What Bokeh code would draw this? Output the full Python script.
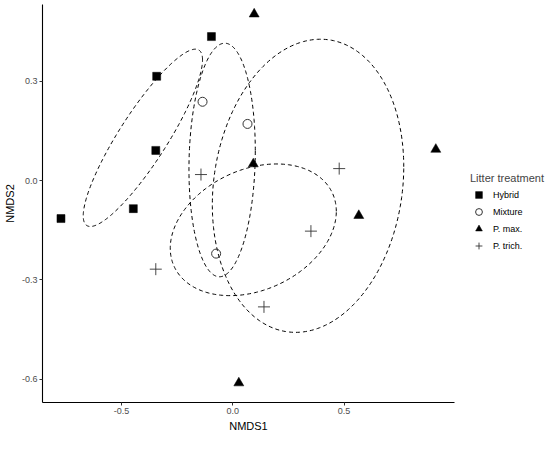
import numpy as np
from bokeh.plotting import figure
from bokeh.models import Range1d, FixedTicker, PrintfTickFormatter, Legend, LegendItem
from bokeh.embed import file_html
from bokeh.resources import INLINE

# ---- data ----
hybrid_x = [-0.096, -0.342, -0.346, -0.447, -0.772]
hybrid_y = [0.435, 0.315, 0.091, -0.085, -0.115]

mixture_x = [-0.136, 0.066, -0.075]
mixture_y = [0.238, 0.171, -0.221]

pmax_x = [0.096, 0.092, 0.912, 0.566, 0.027]
pmax_y = [0.503, 0.050, 0.094, -0.106, -0.612]

ptrich_x = [-0.143, 0.478, 0.351, -0.346, 0.140]
ptrich_y = [0.018, 0.036, -0.153, -0.268, -0.382]

# ellipse parameters per group: centre, half-extent in x and y, correlation
ell_groups = ["Hybrid", "Mixture", "P. max.", "P. trich."]
ell_cx = [-0.404, -0.048, 0.338, 0.092]
ell_cy = [0.129, 0.062, -0.016, -0.149]
ell_sx = [0.268, 0.149, 0.430, 0.373]
ell_sy = [0.268, 0.353, 0.443, 0.199]
ell_r = [0.88, 0.08, 0.13, 0.28]

x_ticks = [-0.5, 0.0, 0.5]
y_ticks = [-0.6, -0.3, 0.0, 0.3]

FONT = "Liberation Sans"

p = figure(width=534, height=433, frame_width=412, frame_height=398,
           output_backend="svg", toolbar_location=None,
           x_range=Range1d(-0.855, 0.996), y_range=Range1d(-0.671, 0.532),
           min_border_left=10, min_border_top=4, min_border_bottom=0, min_border_right=0)
p.outline_line_color = None
p.xgrid.visible = False
p.ygrid.visible = False
p.background_fill_color = "white"

# ellipses
t = np.linspace(0, 2 * np.pi, 300)
for cx, cy, sx, sy, r in zip(ell_cx, ell_cy, ell_sx, ell_sy, ell_r):
    ex = cx + sx * np.cos(t)
    ey = cy + sy * (r * np.cos(t) + np.sqrt(1 - r * r) * np.sin(t))
    p.line(ex, ey, line_color="black", line_width=1.0, line_dash="4 3")

r_h = p.scatter(hybrid_x, hybrid_y, marker="square", size=8, fill_color="black",
                line_color="black", line_width=0.5)
r_m = p.scatter(mixture_x, mixture_y, marker="circle", size=9, fill_color=None,
                line_color="#333333", line_width=1.0)
r_p = p.scatter(pmax_x, pmax_y, marker="triangle", size=10, fill_color="black",
                line_color="black", line_width=0.5)
r_t = p.scatter(ptrich_x, ptrich_y, marker="cross", size=12, fill_color=None,
                line_color="#333333", line_width=0.9)

for ax in (p.xaxis[0], p.yaxis[0]):
    ax.axis_line_color = "black"
    ax.axis_line_width = 1.1
    ax.major_tick_line_color = "#333333"
    ax.major_tick_out = 3
    ax.major_tick_in = 0
    ax.minor_tick_line_color = None
    ax.major_label_text_font = FONT
    ax.major_label_text_font_size = "9px"
    ax.major_label_text_color = "#4D4D4D"
    ax.major_label_standoff = 2
    ax.axis_label_text_font = FONT
    ax.axis_label_text_font_size = "11px"
    ax.axis_label_text_font_style = "normal"
    ax.axis_label_text_color = "black"
    ax.axis_label_standoff = 3
    ax.formatter = PrintfTickFormatter(format="%.1f")

p.xaxis[0].ticker = FixedTicker(ticks=x_ticks)
p.yaxis[0].ticker = FixedTicker(ticks=y_ticks)
p.xaxis[0].axis_label = "NMDS1"
p.yaxis[0].axis_label = "NMDS2"

legend = Legend(items=[
    LegendItem(label="Hybrid", renderers=[r_h]),
    LegendItem(label="Mixture", renderers=[r_m]),
    LegendItem(label="P. max.", renderers=[r_p]),
    LegendItem(label="P. trich.", renderers=[r_t]),
], location=(16, 148), title="Litter treatment")
legend.title_text_font = FONT
legend.title_text_font_size = "11px"
legend.title_text_font_style = "normal"
legend.title_standoff = 2
legend.label_text_font = FONT
legend.label_text_font_size = "9px"
legend.label_text_color = "black"
legend.border_line_color = None
legend.background_fill_alpha = 0
legend.glyph_width = 17
legend.glyph_height = 17
legend.label_height = 17
legend.spacing = 0
legend.padding = 2
legend.margin = 6
legend.label_standoff = 6
p.add_layout(legend, "right")

open("out.html", "w").write(file_html(p, INLINE))
